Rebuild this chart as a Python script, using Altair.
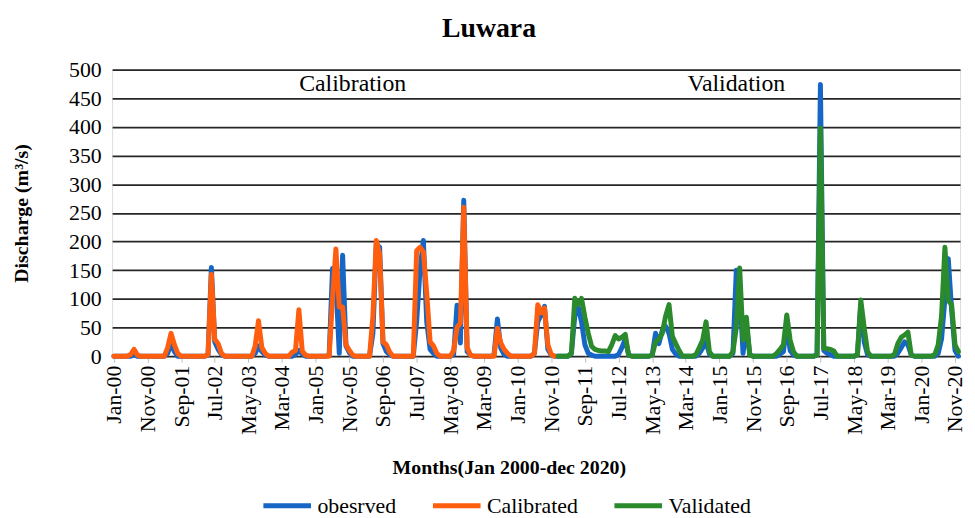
import altair as alt
import pandas as pd

# ---- data ----
months = pd.date_range("2000-01-01", periods=252, freq="MS").strftime("%b-%y").tolist()
tick_months = months[::10]

observed = [
    0, 0, 0, 0, 0, 0, 3, 0, 0, 0, 0, 0,          # 2000
    0, 0, 0, 0, 5, 22, 8, 0, 0, 0, 0, 0,         # 2001
    0, 0, 0, 0, 2, 155, 25, 12, 3, 0, 0, 0,      # 2002
    0, 0, 0, 0, 0, 0, 5, 18, 8, 2, 0, 0,         # 2003
    0, 0, 0, 0, 0, 0, 3, 10, 4, 0, 0, 0,         # 2004
    0, 0, 0, 0, 2, 153, 130, 5, 176, 18, 6, 0,   # 2005
    0, 0, 0, 0, 0, 40, 196, 190, 22, 8, 3, 0,    # 2006
    0, 0, 0, 0, 0, 0, 60, 150, 202, 60, 12, 5,   # 2007
    0, 0, 0, 0, 0, 3, 89, 23, 272, 8, 2, 0,      # 2008
    0, 0, 0, 0, 0, 2, 65, 14, 3, 0, 0, 0,        # 2009
    0, 0, 0, 0, 0, 5, 60, 72, 87, 12, 2, 0,      # 2010
    0, 0, 0, 0, 5, 70, 86, 60, 20, 5, 2, 0,      # 2011
    0, 0, 0, 0, 0, 0, 3, 15, 30, 2, 0, 0,        # 2012
    0, 0, 0, 0, 2, 40, 22, 45, 52, 40, 12, 4,    # 2013
    0, 0, 0, 0, 0, 0, 5, 14, 25, 4, 0, 0,        # 2014
    0, 0, 0, 0, 5, 150, 115, 5, 55, 3, 0, 0,     # 2015
    0, 0, 0, 0, 0, 0, 4, 8, 55, 10, 2, 0,        # 2016
    0, 0, 0, 0, 0, 3, 474, 10, 5, 3, 0, 0,       # 2017
    0, 0, 0, 0, 0, 3, 90, 25, 3, 0, 0, 0,        # 2018
    0, 0, 0, 0, 0, 5, 15, 25, 20, 2, 0, 0,       # 2019
    0, 0, 0, 0, 0, 5, 30, 100, 170, 80, 10, 0,   # 2020
]

calibrated = [
    0, 0, 0, 0, 0, 3, 12, 2, 0, 0, 0, 0,         # 2000
    0, 0, 0, 0, 15, 40, 20, 5, 0, 0, 0, 0,       # 2001
    0, 0, 0, 0, 3, 143, 30, 22, 5, 0, 0, 0,      # 2002
    0, 0, 0, 0, 0, 0, 18, 62, 15, 5, 0, 0,       # 2003
    0, 0, 0, 0, 0, 7, 10, 81, 9, 2, 0, 0,        # 2004
    0, 0, 0, 0, 0, 100, 187, 86, 86, 20, 10, 2,  # 2005
    0, 0, 0, 0, 0, 70, 202, 178, 25, 20, 7, 0,   # 2006
    0, 0, 0, 0, 0, 0, 184, 190, 182, 110, 25, 18,  # 2007
    5, 0, 0, 0, 0, 10, 50, 58, 260, 15, 2, 0,    # 2008
    0, 0, 0, 0, 0, 0, 49, 23, 12, 5, 0, 0,       # 2009
    0, 0, 0, 0, 0, 5, 90, 76, 84, 20, 3, 0,      # 2010
]

validated = [
    0, 0, 0, 0, 5, 101, 90, 101, 68, 40, 17, 12,  # 2011
    10, 9, 9, 8, 20, 36, 30, 33, 38, 2, 0, 0,     # 2012
    0, 0, 0, 0, 2, 25, 30, 40, 70, 90, 35, 22,    # 2013
    10, 0, 0, 0, 0, 3, 15, 28, 60, 8, 0, 0,       # 2014
    0, 0, 0, 0, 8, 50, 154, 28, 68, 2, 0, 0,      # 2015
    0, 0, 0, 0, 0, 5, 12, 20, 72, 28, 8, 0,       # 2016
    0, 0, 0, 0, 0, 2, 398, 14, 13, 12, 9, 0,      # 2017
    0, 0, 0, 0, 0, 3, 98, 50, 8, 0, 0, 0,         # 2018
    0, 0, 0, 0, 3, 22, 33, 37, 42, 2, 0, 0,       # 2019
    0, 0, 0, 0, 3, 20, 70, 190, 97, 90, 20, 8,    # 2020
]

series_names = ["obesrved", "Calibrated", "Validated"]
series_colors = ["#1666C5", "#FF5E0E", "#2A8A2C"]

annot_text = ["Calibration", "Validation"]
annot_month = ["Dec-05", "Jun-15"]
annot_value = [463, 463]

chart_title = ["Luwara"]

# ---- build long table ----
rows = []
for m, v in zip(months, observed):
    rows.append({"month": m, "value": v, "series": "obesrved"})
for m, v in zip(months[:len(calibrated)], calibrated):
    rows.append({"month": m, "value": v, "series": "Calibrated"})
for m, v in zip(months[len(calibrated):], validated):
    rows.append({"month": m, "value": v, "series": "Validated"})
df = pd.DataFrame(rows)
ann = pd.DataFrame({"month": annot_month, "value": annot_value, "label": annot_text})

FONT = "Liberation Serif"

x = alt.X(
    "month:O",
    sort=months,
    scale=alt.Scale(type="point", domain=months, paddingOuter=0.5),
    axis=alt.Axis(
        values=tick_months, labelAngle=270, labelOverlap=False,
        labelFont=FONT, labelFontSize=22, labelColor="black",
        ticks=True, tickSize=6, tickColor="#bdbdbd", labelPadding=3,
        domain=False, grid=False,
        title="Months(Jan 2000-dec 2020)", titleFont=FONT, titleFontSize=20,
        titleFontWeight="bold", titleColor="black",
        titleX=400, titleY=118, titleBaseline="alphabetic",
    ),
)
y = alt.Y(
    "value:Q",
    scale=alt.Scale(domain=[0, 500], nice=False),
    axis=alt.Axis(
        values=list(range(0, 501, 50)), grid=True, gridColor="#262626", gridWidth=1.8,
        ticks=False, domain=False, labelFont=FONT, labelFontSize=22,
        labelColor="black", labelPadding=11,
        title="Discharge (m³/s)", titleFont=FONT, titleFontSize=20,
        titleFontWeight="bold", titleColor="black",
        titleX=-91, titleY=144.5, titleBaseline="middle", titleAngle=270,
    ),
)
color = alt.Color(
    "series:N",
    scale=alt.Scale(domain=series_names, range=series_colors),
    legend=alt.Legend(
        title=None, orient="none", legendX=150, legendY=413, direction="horizontal",
        columns=3, symbolType="stroke", symbolSize=2304, symbolStrokeWidth=5,
        labelFont=FONT, labelFontSize=22, labelColor="black", labelOffset=4,
        columnPadding=26,
    ),
)

base = alt.Chart(df)
layers = []
for s in series_names:
    layers.append(
        base.transform_filter(alt.datum.series == s)
        .mark_line(strokeWidth=5, strokeJoin="round", strokeCap="round")
        .encode(x=x, y=y, color=color)
    )

text = alt.Chart(ann).mark_text(
    font=FONT, fontSize=24, color="black", baseline="alphabetic", align="center"
).encode(x=x, y=y, text="label:N")

title_mark = alt.Chart(pd.DataFrame({"t": chart_title})).mark_text(
    font=FONT, fontSize=28, fontWeight="bold", color="black",
    baseline="alphabetic", align="center",
).encode(text="t:N", x=alt.value(380), y=alt.value(-33))

chart = alt.layer(*layers, text, title_mark).properties(
    width=855,
    height=289,
    autosize=alt.AutoSizeParams(type="none"),
    padding={"left": 105, "top": 60, "right": 7, "bottom": 161},
).configure_view(stroke="#1a1a1a", strokeWidth=2).configure(background="white")

chart.save("out.html", embed_options={"renderer": "svg", "actions": False})
